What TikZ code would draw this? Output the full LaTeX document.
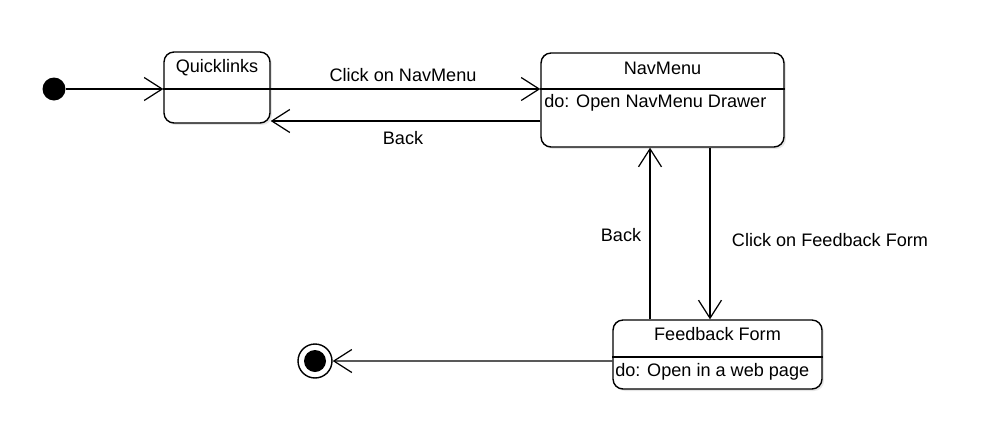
\documentclass[tikz,border=0pt]{standalone}
\usepackage{fontspec}
\setmainfont{Liberation Sans}
\usetikzlibrary{arrows.meta,shadows}

\begin{document}
\begin{tikzpicture}[x=0.02cm, y=-0.02cm]

    \tikzset{statestyle/.style={draw,rounded corners=0.2cm,line width=0.8pt,fill=white,
                                drop shadow={opacity=0.2,shadow xshift=0.04cm,shadow yshift=-0.04cm}},
             arrowstyle/.style={-{Straight Barb[length=0.36cm,width=0.46cm]},line width=0.7pt},
             labelstyle/.style={font=\fontsize{10.3}{12}\selectfont}}

    \useasboundingbox (0,0) rectangle (983,430);

    \node[statestyle,minimum width=2.12cm,minimum height=1.42cm] (quick) at (217,87.5) {};
    \node[statestyle,minimum width=4.86cm,minimum height=1.88cm] (nav) at (662.5,100) {};
    \node[statestyle,minimum width=4.18cm,minimum height=1.38cm] (feed) at (717.5,354.5) {};

    \node[circle,fill=black,minimum size=0.46cm,inner sep=0pt] (ini) at (54,89) {};
    \node[circle,draw,line width=0.8pt,fill=white,minimum size=0.68cm,inner sep=0pt] (fin) at (315,361) {};
    \node[circle,fill=black,minimum size=0.44cm,inner sep=0pt] (fincore) at (315,361) {};

    \draw[line width=0.8pt] (quick.west |- ini) -- (quick.east |- ini);
    \draw[line width=0.8pt] (nav.west |- ini) -- (nav.east |- ini);
    \draw[line width=0.8pt] ([yshift=-0.05cm]feed.west) -- ([yshift=-0.05cm]feed.east);

    \node[labelstyle] (t1) at (217,68) {Quicklinks};
    \node[labelstyle] (t2) at (662.5,68) {NavMenu};
    \node[labelstyle,anchor=west,inner sep=0pt] (t3) at (544,103) {do: Open NavMenu Drawer};
    \node[labelstyle] (t4) at (717.5,334) {Feedback Form};
    \node[labelstyle,anchor=west,inner sep=0pt] (t5) at (615,372) {do: Open in a web page};

    % Etiquetas de las transiciones.
    \node[labelstyle] (l1) at (403,75) {Click on NavMenu};
    \node[labelstyle] (l2) at (403,138) {Back};
    \node[labelstyle] (l3) at (621,235) {Back};
    \node[labelstyle] (l4) at (830,240) {Click on Feedback Form};

    \begin{scope}[every path/.style={arrowstyle}]
        \draw (ini) -- (quick.west |- ini);
        \draw (quick.east |- ini) -- (nav.west |- ini);
        \draw ([yshift=-0.42cm]nav.west) -- ([yshift=-0.42cm]nav.west -| quick.east);
        \draw ([xshift=-0.25cm]nav.south |- feed.north) -- ([xshift=-0.25cm]nav.south);
        \draw ([xshift=0.95cm]nav.south) -- ([xshift=0.95cm]nav.south |- feed.north);
        \draw ([yshift=-0.13cm]feed.west) -- (fin);
    \end{scope}

\end{tikzpicture}
\end{document}
